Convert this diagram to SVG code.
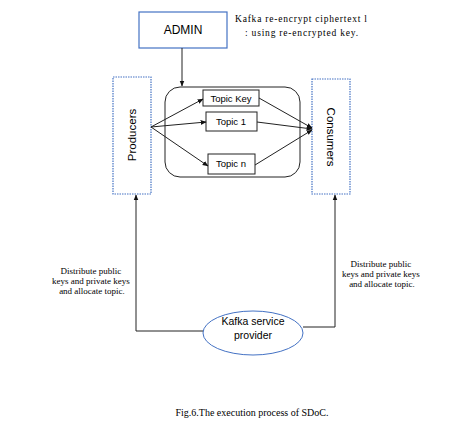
<svg xmlns="http://www.w3.org/2000/svg" width="453" height="426" viewBox="0 0 453 426">
<style>
.sans{font-family:"Liberation Sans","DejaVu Sans",sans-serif;fill:#000}
.serif{font-family:"Liberation Serif","DejaVu Serif",serif;fill:#000}
.ln{stroke:#222;stroke-width:1;fill:none}
.dot{fill:#fff;stroke:#4472C4;stroke-width:1.2;stroke-dasharray:1.5 1}
.box{fill:#fff;stroke:#222;stroke-width:1}
</style>
<defs>
<marker id="ah" viewBox="0 0 10 10" refX="9" refY="5" markerWidth="6" markerHeight="6" orient="auto" markerUnits="userSpaceOnUse">
<path d="M0,1 L10,5 L0,9 z" fill="#111"/>
</marker>
</defs>
<rect width="453" height="426" fill="#fff"/>

<g id="admin">
<rect x="139" y="12" width="88" height="36" fill="#fff" stroke="#4472C4" stroke-width="1.2"/>
<text class="sans" x="183" y="34" font-size="12" text-anchor="middle">ADMIN</text>
</g>

<g id="note">
<text class="serif" x="235" y="22" font-size="9.5" textLength="132" lengthAdjust="spacing">Kafka re-encrypt ciphertext l</text>
<text class="serif" x="245" y="36" font-size="9.5" textLength="113" lengthAdjust="spacing">: using re-encrypted key.</text>
</g>

<g id="broker">
<rect x="165" y="87" width="135" height="90" rx="15" ry="15" class="box"/>
</g>

<g id="producers">
<rect x="113" y="77" width="38" height="117" class="dot"/>
<text class="sans" x="0" y="0" font-size="11.5" text-anchor="middle" transform="translate(136,135) rotate(-90)">Producers</text>
</g>

<g id="consumers">
<rect x="312" y="79" width="38" height="115" class="dot"/>
<text class="sans" x="0" y="0" font-size="11.5" text-anchor="middle" transform="translate(327,137) rotate(90)">Consumers</text>
</g>

<g id="topic-key">
<rect x="203" y="90" width="56" height="16" class="box"/>
<text class="sans" x="231" y="101.5" font-size="9.5" text-anchor="middle">Topic Key</text>
</g>
<g id="topic-1">
<rect x="206" y="112" width="51" height="19" class="box"/>
<text class="sans" x="231" y="125" font-size="9.5" text-anchor="middle">Topic 1</text>
</g>
<g id="topic-n">
<rect x="208" y="154" width="47" height="20" class="box"/>
<text class="sans" x="231" y="167" font-size="9.5" text-anchor="middle">Topic n</text>
</g>

<g id="kafka-provider">
<ellipse cx="253" cy="333" rx="50" ry="22" fill="#fff" stroke="#4472C4" stroke-width="1"/>
<text class="sans" x="253" y="325" font-size="10.5" text-anchor="middle">Kafka service</text>
<text class="sans" x="253" y="339" font-size="10.5" text-anchor="middle">provider</text>
</g>

<g id="labels">
<text class="serif" font-size="9" text-anchor="middle">
<tspan x="92" y="274">Distribute public</tspan>
<tspan x="92" y="284">keys and private keys</tspan>
<tspan x="92" y="294">and allocate topic.</tspan>
</text>
<text class="serif" font-size="9" text-anchor="middle">
<tspan x="382" y="267">Distribute public</tspan>
<tspan x="382" y="277">keys and private keys</tspan>
<tspan x="382" y="287">and allocate topic.</tspan>
</text>
</g>

<g id="connectors">
<line x1="182" y1="48" x2="182" y2="86" class="ln" marker-end="url(#ah)"/>
<line x1="151" y1="127" x2="203" y2="99" class="ln" marker-end="url(#ah)"/>
<line x1="151" y1="127" x2="206" y2="122" class="ln" marker-end="url(#ah)"/>
<line x1="151" y1="127" x2="208" y2="166" class="ln" marker-end="url(#ah)"/>
<line x1="259" y1="98" x2="312" y2="128" class="ln" marker-end="url(#ah)"/>
<line x1="257" y1="122" x2="312" y2="129" class="ln" marker-end="url(#ah)"/>
<line x1="255" y1="165" x2="312" y2="130" class="ln" marker-end="url(#ah)"/>
<polyline points="203,331 136,331 136,195" class="ln" stroke="#444" stroke-width="1.2" marker-end="url(#ah)"/>
<polyline points="303,327 335,327 335,195" class="ln" stroke="#444" stroke-width="1.2" marker-end="url(#ah)"/>
</g>

<text class="serif" x="252" y="416" font-size="10" text-anchor="middle">Fig.6.The execution process of SDoC.</text>
</svg>
